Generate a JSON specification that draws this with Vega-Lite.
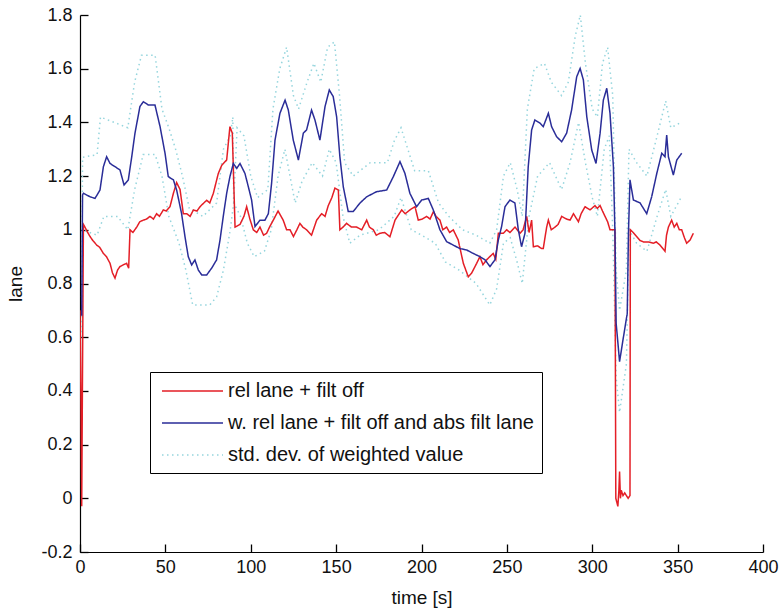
{
  "$schema": "https://vega.github.io/schema/vega-lite/v6.json",
  "width": 683,
  "height": 537,
  "autosize": {"type": "none"},
  "padding": {"left": 80, "top": 15, "right": 19, "bottom": 59},
  "background": "white",
  "config": {
    "view": {"stroke": null},
    "font": "Liberation Sans",
    "legend": {
      "orient": "none",
      "legendX": 70,
      "legendY": 357,
      "strokeColor": "black",
      "fillColor": "white",
      "padding": 8,
      "symbolType": "M-0.7,0H5.4",
      "symbolSize": 400,
      "symbolStrokeWidth": 1.5,
      "labelFontSize": 20,
      "labelFont": "Liberation Sans",
      "labelColor": "#111",
      "labelLimit": 600,
      "labelOffset": 48,
      "rowPadding": 11
    }
  },
  "data": {
    "values": [
      {"t":1,"v":0.75,"s":"d","p":"u"},{"t":1.5,"v":1.27,"s":"d","p":"u"},{"t":10,"v":1.28,"s":"d","p":"u"},{"t":12,"v":1.42,"s":"d","p":"u"},{"t":20,"v":1.4,"s":"d","p":"u"},{"t":28,"v":1.38,"s":"d","p":"u"},{"t":32,"v":1.55,"s":"d","p":"u"},{"t":36,"v":1.65,"s":"d","p":"u"},{"t":44,"v":1.65,"s":"d","p":"u"},{"t":48,"v":1.45,"s":"d","p":"u"},{"t":52,"v":1.38,"s":"d","p":"u"},{"t":56,"v":1.3,"s":"d","p":"u"},{"t":60,"v":1.2,"s":"d","p":"u"},{"t":64,"v":1.08,"s":"d","p":"u"},{"t":72,"v":1.05,"s":"d","p":"u"},{"t":80,"v":1.1,"s":"d","p":"u"},{"t":84,"v":1.3,"s":"d","p":"u"},{"t":88,"v":1.35,"s":"d","p":"u"},{"t":89.5,"v":1.42,"s":"d","p":"u"},{"t":90,"v":1.1,"s":"d","p":"u"},{"t":92,"v":1.38,"s":"d","p":"u"},{"t":96,"v":1.35,"s":"d","p":"u"},{"t":100,"v":1.2,"s":"d","p":"u"},{"t":104,"v":1.12,"s":"d","p":"u"},{"t":110,"v":1.15,"s":"d","p":"u"},{"t":113,"v":1.45,"s":"d","p":"u"},{"t":117,"v":1.6,"s":"d","p":"u"},{"t":121,"v":1.68,"s":"d","p":"u"},{"t":125,"v":1.5,"s":"d","p":"u"},{"t":128,"v":1.45,"s":"d","p":"u"},{"t":133,"v":1.55,"s":"d","p":"u"},{"t":137,"v":1.62,"s":"d","p":"u"},{"t":141,"v":1.55,"s":"d","p":"u"},{"t":145,"v":1.68,"s":"d","p":"u"},{"t":149,"v":1.7,"s":"d","p":"u"},{"t":152,"v":1.5,"s":"d","p":"u"},{"t":155,"v":1.25,"s":"d","p":"u"},{"t":160,"v":1.2,"s":"d","p":"u"},{"t":170,"v":1.25,"s":"d","p":"u"},{"t":180,"v":1.25,"s":"d","p":"u"},{"t":184,"v":1.33,"s":"d","p":"u"},{"t":188,"v":1.38,"s":"d","p":"u"},{"t":192,"v":1.3,"s":"d","p":"u"},{"t":196,"v":1.22,"s":"d","p":"u"},{"t":204,"v":1.22,"s":"d","p":"u"},{"t":210,"v":1.1,"s":"d","p":"u"},{"t":216,"v":1.05,"s":"d","p":"u"},{"t":224,"v":1.0,"s":"d","p":"u"},{"t":232,"v":0.98,"s":"d","p":"u"},{"t":240,"v":0.95,"s":"d","p":"u"},{"t":244,"v":1.0,"s":"d","p":"u"},{"t":248,"v":1.2,"s":"d","p":"u"},{"t":252,"v":1.25,"s":"d","p":"u"},{"t":256,"v":1.15,"s":"d","p":"u"},{"t":259,"v":1.05,"s":"d","p":"u"},{"t":262,"v":1.45,"s":"d","p":"u"},{"t":266,"v":1.6,"s":"d","p":"u"},{"t":272,"v":1.62,"s":"d","p":"u"},{"t":276,"v":1.55,"s":"d","p":"u"},{"t":282,"v":1.5,"s":"d","p":"u"},{"t":286,"v":1.55,"s":"d","p":"u"},{"t":290,"v":1.72,"s":"d","p":"u"},{"t":293,"v":1.8,"s":"d","p":"u"},{"t":296,"v":1.62,"s":"d","p":"u"},{"t":300,"v":1.45,"s":"d","p":"u"},{"t":303,"v":1.42,"s":"d","p":"u"},{"t":306,"v":1.62,"s":"d","p":"u"},{"t":309,"v":1.68,"s":"d","p":"u"},{"t":312,"v":1.5,"s":"d","p":"u"},{"t":314,"v":0.85,"s":"d","p":"u"},{"t":316,"v":0.7,"s":"d","p":"u"},{"t":320,"v":0.85,"s":"d","p":"u"},{"t":321.5,"v":1.3,"s":"d","p":"u"},{"t":326,"v":1.25,"s":"d","p":"u"},{"t":332,"v":1.2,"s":"d","p":"u"},{"t":338,"v":1.35,"s":"d","p":"u"},{"t":343,"v":1.48,"s":"d","p":"u"},{"t":346,"v":1.38,"s":"d","p":"u"},{"t":352,"v":1.4,"s":"d","p":"u"},
      {"t":1,"v":0.6,"s":"d","p":"l"},{"t":1.5,"v":1.0,"s":"d","p":"l"},{"t":10,"v":0.98,"s":"d","p":"l"},{"t":14,"v":1.05,"s":"d","p":"l"},{"t":22,"v":1.05,"s":"d","p":"l"},{"t":28,"v":1.0,"s":"d","p":"l"},{"t":32,"v":1.15,"s":"d","p":"l"},{"t":37,"v":1.28,"s":"d","p":"l"},{"t":44,"v":1.28,"s":"d","p":"l"},{"t":48,"v":1.2,"s":"d","p":"l"},{"t":52,"v":1.05,"s":"d","p":"l"},{"t":58,"v":0.95,"s":"d","p":"l"},{"t":62,"v":0.85,"s":"d","p":"l"},{"t":66,"v":0.72,"s":"d","p":"l"},{"t":76,"v":0.72,"s":"d","p":"l"},{"t":80,"v":0.75,"s":"d","p":"l"},{"t":84,"v":0.85,"s":"d","p":"l"},{"t":88,"v":1.0,"s":"d","p":"l"},{"t":90,"v":1.1,"s":"d","p":"l"},{"t":94,"v":1.05,"s":"d","p":"l"},{"t":98,"v":0.95,"s":"d","p":"l"},{"t":102,"v":0.9,"s":"d","p":"l"},{"t":108,"v":0.92,"s":"d","p":"l"},{"t":112,"v":1.0,"s":"d","p":"l"},{"t":116,"v":1.2,"s":"d","p":"l"},{"t":120,"v":1.3,"s":"d","p":"l"},{"t":126,"v":1.1,"s":"d","p":"l"},{"t":130,"v":1.18,"s":"d","p":"l"},{"t":136,"v":1.25,"s":"d","p":"l"},{"t":142,"v":1.2,"s":"d","p":"l"},{"t":146,"v":1.3,"s":"d","p":"l"},{"t":150,"v":1.25,"s":"d","p":"l"},{"t":154,"v":1.05,"s":"d","p":"l"},{"t":158,"v":0.95,"s":"d","p":"l"},{"t":164,"v":0.98,"s":"d","p":"l"},{"t":175,"v":1.0,"s":"d","p":"l"},{"t":184,"v":1.05,"s":"d","p":"l"},{"t":188,"v":1.12,"s":"d","p":"l"},{"t":194,"v":1.0,"s":"d","p":"l"},{"t":200,"v":0.98,"s":"d","p":"l"},{"t":208,"v":0.95,"s":"d","p":"l"},{"t":214,"v":0.88,"s":"d","p":"l"},{"t":222,"v":0.85,"s":"d","p":"l"},{"t":232,"v":0.8,"s":"d","p":"l"},{"t":240,"v":0.72,"s":"d","p":"l"},{"t":244,"v":0.78,"s":"d","p":"l"},{"t":248,"v":0.95,"s":"d","p":"l"},{"t":252,"v":0.97,"s":"d","p":"l"},{"t":256,"v":0.88,"s":"d","p":"l"},{"t":259,"v":0.8,"s":"d","p":"l"},{"t":263,"v":1.05,"s":"d","p":"l"},{"t":268,"v":1.2,"s":"d","p":"l"},{"t":275,"v":1.25,"s":"d","p":"l"},{"t":282,"v":1.15,"s":"d","p":"l"},{"t":287,"v":1.25,"s":"d","p":"l"},{"t":292,"v":1.4,"s":"d","p":"l"},{"t":296,"v":1.25,"s":"d","p":"l"},{"t":300,"v":1.12,"s":"d","p":"l"},{"t":303,"v":1.05,"s":"d","p":"l"},{"t":307,"v":1.3,"s":"d","p":"l"},{"t":310,"v":1.35,"s":"d","p":"l"},{"t":312,"v":1.0,"s":"d","p":"l"},{"t":314,"v":0.45,"s":"d","p":"l"},{"t":316,"v":0.32,"s":"d","p":"l"},{"t":320,"v":0.5,"s":"d","p":"l"},{"t":321.5,"v":1.0,"s":"d","p":"l"},{"t":326,"v":0.95,"s":"d","p":"l"},{"t":332,"v":0.92,"s":"d","p":"l"},{"t":338,"v":1.05,"s":"d","p":"l"},{"t":343,"v":1.15,"s":"d","p":"l"},{"t":346,"v":1.05,"s":"d","p":"l"},{"t":352,"v":1.12,"s":"d","p":"l"},
      {"t":0,"v":0.7,"s":"r","p":"m"},{"t":0.6,"v":0.35,"s":"r","p":"m"},{"t":1.0,"v":-0.03,"s":"r","p":"m"},{"t":1.5,"v":0.5,"s":"r","p":"m"},{"t":2.0,"v":1.02,"s":"r","p":"m"},{"t":2.9,"v":1.01,"s":"r","p":"m"},{"t":4.5,"v":0.99,"s":"r","p":"m"},{"t":5.9,"v":0.975,"s":"r","p":"m"},{"t":7.5,"v":0.96,"s":"r","p":"m"},{"t":9.8,"v":0.943,"s":"r","p":"m"},{"t":11.5,"v":0.935,"s":"r","p":"m"},{"t":13.7,"v":0.912,"s":"r","p":"m"},{"t":15.5,"v":0.9,"s":"r","p":"m"},{"t":17.6,"v":0.875,"s":"r","p":"m"},{"t":19,"v":0.84,"s":"r","p":"m"},{"t":20.5,"v":0.82,"s":"r","p":"m"},{"t":22,"v":0.85,"s":"r","p":"m"},{"t":23.4,"v":0.863,"s":"r","p":"m"},{"t":25.5,"v":0.87,"s":"r","p":"m"},{"t":27.3,"v":0.875,"s":"r","p":"m"},{"t":28.5,"v":0.857,"s":"r","p":"m"},{"t":29.3,"v":1.0,"s":"r","p":"m"},{"t":31,"v":0.99,"s":"r","p":"m"},{"t":33.2,"v":1.01,"s":"r","p":"m"},{"t":35,"v":1.03,"s":"r","p":"m"},{"t":37.1,"v":1.036,"s":"r","p":"m"},{"t":39,"v":1.04,"s":"r","p":"m"},{"t":41,"v":1.05,"s":"r","p":"m"},{"t":43,"v":1.04,"s":"r","p":"m"},{"t":44.9,"v":1.06,"s":"r","p":"m"},{"t":46.5,"v":1.05,"s":"r","p":"m"},{"t":48.8,"v":1.074,"s":"r","p":"m"},{"t":50.5,"v":1.07,"s":"r","p":"m"},{"t":52.7,"v":1.086,"s":"r","p":"m"},{"t":54.7,"v":1.136,"s":"r","p":"m"},{"t":56.6,"v":1.176,"s":"r","p":"m"},{"t":58.6,"v":1.15,"s":"r","p":"m"},{"t":60.5,"v":1.06,"s":"r","p":"m"},{"t":62.5,"v":1.06,"s":"r","p":"m"},{"t":64.5,"v":1.05,"s":"r","p":"m"},{"t":66.4,"v":1.074,"s":"r","p":"m"},{"t":68.5,"v":1.07,"s":"r","p":"m"},{"t":70.3,"v":1.086,"s":"r","p":"m"},{"t":72.5,"v":1.1,"s":"r","p":"m"},{"t":74.2,"v":1.11,"s":"r","p":"m"},{"t":76,"v":1.1,"s":"r","p":"m"},{"t":78.1,"v":1.136,"s":"r","p":"m"},{"t":81,"v":1.21,"s":"r","p":"m"},{"t":83,"v":1.24,"s":"r","p":"m"},{"t":85.9,"v":1.26,"s":"r","p":"m"},{"t":87.8,"v":1.384,"s":"r","p":"m"},{"t":89.2,"v":1.36,"s":"r","p":"m"},{"t":90.8,"v":1.01,"s":"r","p":"m"},{"t":93.7,"v":1.02,"s":"r","p":"m"},{"t":96,"v":1.05,"s":"r","p":"m"},{"t":97.6,"v":1.086,"s":"r","p":"m"},{"t":99.5,"v":1.04,"s":"r","p":"m"},{"t":101.5,"v":1.0,"s":"r","p":"m"},{"t":103.5,"v":0.99,"s":"r","p":"m"},{"t":105.4,"v":1.01,"s":"r","p":"m"},{"t":107.5,"v":0.98,"s":"r","p":"m"},{"t":109.3,"v":0.987,"s":"r","p":"m"},{"t":111,"v":1.01,"s":"r","p":"m"},{"t":113.2,"v":1.036,"s":"r","p":"m"},{"t":116,"v":1.07,"s":"r","p":"m"},{"t":119,"v":1.036,"s":"r","p":"m"},{"t":121,"v":1.0,"s":"r","p":"m"},{"t":123,"v":1.0,"s":"r","p":"m"},{"t":125,"v":0.975,"s":"r","p":"m"},{"t":127,"v":1.0,"s":"r","p":"m"},{"t":128.8,"v":1.024,"s":"r","p":"m"},{"t":130.5,"v":1.01,"s":"r","p":"m"},{"t":132.7,"v":1.0,"s":"r","p":"m"},{"t":135.6,"v":0.98,"s":"r","p":"m"},{"t":138.6,"v":1.036,"s":"r","p":"m"},{"t":141.5,"v":1.06,"s":"r","p":"m"},{"t":143.5,"v":1.05,"s":"r","p":"m"},{"t":145.4,"v":1.09,"s":"r","p":"m"},{"t":147.5,"v":1.12,"s":"r","p":"m"},{"t":149.3,"v":1.155,"s":"r","p":"m"},{"t":151.3,"v":1.148,"s":"r","p":"m"},{"t":152.2,"v":1.0,"s":"r","p":"m"},{"t":154,"v":1.01,"s":"r","p":"m"},{"t":156.1,"v":1.024,"s":"r","p":"m"},{"t":159,"v":1.01,"s":"r","p":"m"},{"t":162,"v":1.01,"s":"r","p":"m"},{"t":165,"v":1.0,"s":"r","p":"m"},{"t":167.9,"v":1.036,"s":"r","p":"m"},{"t":169.5,"v":1.01,"s":"r","p":"m"},{"t":171.8,"v":1.0,"s":"r","p":"m"},{"t":173.5,"v":0.98,"s":"r","p":"m"},{"t":175.7,"v":0.987,"s":"r","p":"m"},{"t":178.5,"v":0.99,"s":"r","p":"m"},{"t":181.5,"v":0.974,"s":"r","p":"m"},{"t":184.5,"v":1.036,"s":"r","p":"m"},{"t":188.4,"v":1.074,"s":"r","p":"m"},{"t":190.5,"v":1.06,"s":"r","p":"m"},{"t":193.2,"v":1.074,"s":"r","p":"m"},{"t":196.2,"v":1.086,"s":"r","p":"m"},{"t":198.1,"v":1.036,"s":"r","p":"m"},{"t":200.5,"v":1.04,"s":"r","p":"m"},{"t":203,"v":1.05,"s":"r","p":"m"},{"t":205,"v":1.04,"s":"r","p":"m"},{"t":207,"v":1.068,"s":"r","p":"m"},{"t":208.5,"v":1.05,"s":"r","p":"m"},{"t":210.8,"v":1.036,"s":"r","p":"m"},{"t":212.5,"v":1.0,"s":"r","p":"m"},{"t":214.7,"v":1.01,"s":"r","p":"m"},{"t":216.5,"v":0.99,"s":"r","p":"m"},{"t":218.6,"v":1.0,"s":"r","p":"m"},{"t":221.5,"v":0.962,"s":"r","p":"m"},{"t":224.5,"v":0.875,"s":"r","p":"m"},{"t":227.4,"v":0.825,"s":"r","p":"m"},{"t":229.3,"v":0.838,"s":"r","p":"m"},{"t":232.3,"v":0.875,"s":"r","p":"m"},{"t":234.2,"v":0.9,"s":"r","p":"m"},{"t":236,"v":0.87,"s":"r","p":"m"},{"t":238.1,"v":0.888,"s":"r","p":"m"},{"t":240,"v":0.9,"s":"r","p":"m"},{"t":242,"v":0.912,"s":"r","p":"m"},{"t":243.5,"v":0.89,"s":"r","p":"m"},{"t":245,"v":0.987,"s":"r","p":"m"},{"t":247.9,"v":0.987,"s":"r","p":"m"},{"t":249.9,"v":1.0,"s":"r","p":"m"},{"t":251.8,"v":0.99,"s":"r","p":"m"},{"t":254.8,"v":1.01,"s":"r","p":"m"},{"t":257.7,"v":0.987,"s":"r","p":"m"},{"t":259.5,"v":1.0,"s":"r","p":"m"},{"t":261.6,"v":1.05,"s":"r","p":"m"},{"t":263,"v":0.99,"s":"r","p":"m"},{"t":264.5,"v":1.036,"s":"r","p":"m"},{"t":265.5,"v":0.937,"s":"r","p":"m"},{"t":268,"v":0.94,"s":"r","p":"m"},{"t":270.4,"v":0.93,"s":"r","p":"m"},{"t":271.3,"v":0.93,"s":"r","p":"m"},{"t":273.3,"v":1.01,"s":"r","p":"m"},{"t":274.3,"v":1.036,"s":"r","p":"m"},{"t":276,"v":1.0,"s":"r","p":"m"},{"t":278.2,"v":1.01,"s":"r","p":"m"},{"t":280,"v":1.02,"s":"r","p":"m"},{"t":282.1,"v":1.05,"s":"r","p":"m"},{"t":285,"v":1.04,"s":"r","p":"m"},{"t":287,"v":1.036,"s":"r","p":"m"},{"t":289,"v":1.06,"s":"r","p":"m"},{"t":291.9,"v":1.03,"s":"r","p":"m"},{"t":293.5,"v":1.06,"s":"r","p":"m"},{"t":295.8,"v":1.086,"s":"r","p":"m"},{"t":298.7,"v":1.074,"s":"r","p":"m"},{"t":301.6,"v":1.09,"s":"r","p":"m"},{"t":303,"v":1.08,"s":"r","p":"m"},{"t":304.6,"v":1.09,"s":"r","p":"m"},{"t":306,"v":1.07,"s":"r","p":"m"},{"t":307.5,"v":1.05,"s":"r","p":"m"},{"t":309,"v":1.03,"s":"r","p":"m"},{"t":310.4,"v":1.0,"s":"r","p":"m"},{"t":313.3,"v":1.0,"s":"r","p":"m"},{"t":313.8,"v":0.0,"s":"r","p":"m"},{"t":315,"v":-0.03,"s":"r","p":"m"},{"t":315.6,"v":0.03,"s":"r","p":"m"},{"t":316,"v":0.1,"s":"r","p":"m"},{"t":316.5,"v":0.0,"s":"r","p":"m"},{"t":317,"v":0.03,"s":"r","p":"m"},{"t":318,"v":0.01,"s":"r","p":"m"},{"t":319,"v":0.02,"s":"r","p":"m"},{"t":320,"v":0.01,"s":"r","p":"m"},{"t":321,"v":0.0,"s":"r","p":"m"},{"t":322.1,"v":0.01,"s":"r","p":"m"},{"t":322.3,"v":1.0,"s":"r","p":"m"},{"t":324,"v":0.99,"s":"r","p":"m"},{"t":326,"v":0.975,"s":"r","p":"m"},{"t":328,"v":0.96,"s":"r","p":"m"},{"t":330,"v":0.955,"s":"r","p":"m"},{"t":333,"v":0.955,"s":"r","p":"m"},{"t":335.8,"v":0.95,"s":"r","p":"m"},{"t":337.5,"v":0.955,"s":"r","p":"m"},{"t":339.7,"v":0.943,"s":"r","p":"m"},{"t":342.6,"v":0.92,"s":"r","p":"m"},{"t":343.5,"v":0.98,"s":"r","p":"m"},{"t":344.6,"v":1.01,"s":"r","p":"m"},{"t":346.5,"v":1.036,"s":"r","p":"m"},{"t":348,"v":1.01,"s":"r","p":"m"},{"t":349.5,"v":1.024,"s":"r","p":"m"},{"t":351,"v":1.0,"s":"r","p":"m"},{"t":352.4,"v":1.0,"s":"r","p":"m"},{"t":354,"v":0.97,"s":"r","p":"m"},{"t":355.3,"v":0.95,"s":"r","p":"m"},{"t":357.3,"v":0.962,"s":"r","p":"m"},{"t":359.2,"v":0.987,"s":"r","p":"m"},
      {"t":1.0,"v":0.68,"s":"b","p":"m"},{"t":1.5,"v":1.13,"s":"b","p":"m"},{"t":2,"v":1.136,"s":"b","p":"m"},{"t":5.9,"v":1.123,"s":"b","p":"m"},{"t":8.8,"v":1.117,"s":"b","p":"m"},{"t":11.7,"v":1.148,"s":"b","p":"m"},{"t":13.7,"v":1.235,"s":"b","p":"m"},{"t":15.6,"v":1.272,"s":"b","p":"m"},{"t":17.6,"v":1.247,"s":"b","p":"m"},{"t":20.5,"v":1.235,"s":"b","p":"m"},{"t":23.4,"v":1.223,"s":"b","p":"m"},{"t":25.8,"v":1.167,"s":"b","p":"m"},{"t":28.3,"v":1.186,"s":"b","p":"m"},{"t":30.3,"v":1.272,"s":"b","p":"m"},{"t":32.2,"v":1.36,"s":"b","p":"m"},{"t":35.1,"v":1.459,"s":"b","p":"m"},{"t":37.1,"v":1.477,"s":"b","p":"m"},{"t":40,"v":1.465,"s":"b","p":"m"},{"t":43.9,"v":1.465,"s":"b","p":"m"},{"t":46.9,"v":1.384,"s":"b","p":"m"},{"t":49.8,"v":1.285,"s":"b","p":"m"},{"t":51.7,"v":1.198,"s":"b","p":"m"},{"t":54.7,"v":1.186,"s":"b","p":"m"},{"t":56.6,"v":1.148,"s":"b","p":"m"},{"t":59.5,"v":1.06,"s":"b","p":"m"},{"t":61.5,"v":0.974,"s":"b","p":"m"},{"t":63.4,"v":0.9,"s":"b","p":"m"},{"t":65.4,"v":0.869,"s":"b","p":"m"},{"t":67.3,"v":0.888,"s":"b","p":"m"},{"t":69.3,"v":0.85,"s":"b","p":"m"},{"t":71.3,"v":0.832,"s":"b","p":"m"},{"t":74.2,"v":0.832,"s":"b","p":"m"},{"t":77.1,"v":0.857,"s":"b","p":"m"},{"t":80,"v":0.888,"s":"b","p":"m"},{"t":82,"v":0.962,"s":"b","p":"m"},{"t":83.9,"v":1.05,"s":"b","p":"m"},{"t":85.9,"v":1.136,"s":"b","p":"m"},{"t":87.8,"v":1.198,"s":"b","p":"m"},{"t":89.8,"v":1.247,"s":"b","p":"m"},{"t":91.8,"v":1.229,"s":"b","p":"m"},{"t":93.7,"v":1.247,"s":"b","p":"m"},{"t":96.6,"v":1.21,"s":"b","p":"m"},{"t":98.6,"v":1.16,"s":"b","p":"m"},{"t":100.5,"v":1.111,"s":"b","p":"m"},{"t":102.5,"v":1.012,"s":"b","p":"m"},{"t":105.4,"v":1.036,"s":"b","p":"m"},{"t":108.3,"v":1.036,"s":"b","p":"m"},{"t":110.3,"v":1.06,"s":"b","p":"m"},{"t":112.2,"v":1.173,"s":"b","p":"m"},{"t":114.2,"v":1.334,"s":"b","p":"m"},{"t":117.1,"v":1.434,"s":"b","p":"m"},{"t":120.1,"v":1.483,"s":"b","p":"m"},{"t":122,"v":1.446,"s":"b","p":"m"},{"t":124.9,"v":1.334,"s":"b","p":"m"},{"t":127.9,"v":1.26,"s":"b","p":"m"},{"t":130.8,"v":1.36,"s":"b","p":"m"},{"t":132.7,"v":1.372,"s":"b","p":"m"},{"t":135.6,"v":1.446,"s":"b","p":"m"},{"t":137.6,"v":1.409,"s":"b","p":"m"},{"t":140.5,"v":1.334,"s":"b","p":"m"},{"t":143.5,"v":1.459,"s":"b","p":"m"},{"t":146,"v":1.521,"s":"b","p":"m"},{"t":148.3,"v":1.496,"s":"b","p":"m"},{"t":150.3,"v":1.421,"s":"b","p":"m"},{"t":152.2,"v":1.272,"s":"b","p":"m"},{"t":154.2,"v":1.16,"s":"b","p":"m"},{"t":157.1,"v":1.068,"s":"b","p":"m"},{"t":160,"v":1.068,"s":"b","p":"m"},{"t":164,"v":1.1,"s":"b","p":"m"},{"t":167.9,"v":1.123,"s":"b","p":"m"},{"t":173.7,"v":1.142,"s":"b","p":"m"},{"t":179.6,"v":1.148,"s":"b","p":"m"},{"t":183.5,"v":1.198,"s":"b","p":"m"},{"t":187.4,"v":1.254,"s":"b","p":"m"},{"t":190.3,"v":1.21,"s":"b","p":"m"},{"t":193.2,"v":1.136,"s":"b","p":"m"},{"t":197.1,"v":1.086,"s":"b","p":"m"},{"t":200.1,"v":1.111,"s":"b","p":"m"},{"t":204,"v":1.117,"s":"b","p":"m"},{"t":206.9,"v":1.074,"s":"b","p":"m"},{"t":210.8,"v":1.0,"s":"b","p":"m"},{"t":214.7,"v":0.956,"s":"b","p":"m"},{"t":218.6,"v":0.943,"s":"b","p":"m"},{"t":222.5,"v":0.93,"s":"b","p":"m"},{"t":226.4,"v":0.925,"s":"b","p":"m"},{"t":230.3,"v":0.912,"s":"b","p":"m"},{"t":234.2,"v":0.9,"s":"b","p":"m"},{"t":237.2,"v":0.888,"s":"b","p":"m"},{"t":240.1,"v":0.863,"s":"b","p":"m"},{"t":243,"v":0.888,"s":"b","p":"m"},{"t":245,"v":0.962,"s":"b","p":"m"},{"t":246.9,"v":1.012,"s":"b","p":"m"},{"t":248.9,"v":1.086,"s":"b","p":"m"},{"t":251.8,"v":1.111,"s":"b","p":"m"},{"t":254.7,"v":1.1,"s":"b","p":"m"},{"t":256.7,"v":1.0,"s":"b","p":"m"},{"t":258.6,"v":0.937,"s":"b","p":"m"},{"t":260.6,"v":0.987,"s":"b","p":"m"},{"t":262.5,"v":1.235,"s":"b","p":"m"},{"t":264.5,"v":1.372,"s":"b","p":"m"},{"t":266.4,"v":1.409,"s":"b","p":"m"},{"t":269.4,"v":1.397,"s":"b","p":"m"},{"t":271.3,"v":1.384,"s":"b","p":"m"},{"t":274.3,"v":1.434,"s":"b","p":"m"},{"t":276.2,"v":1.384,"s":"b","p":"m"},{"t":279.1,"v":1.347,"s":"b","p":"m"},{"t":282.1,"v":1.328,"s":"b","p":"m"},{"t":285,"v":1.36,"s":"b","p":"m"},{"t":287.9,"v":1.446,"s":"b","p":"m"},{"t":290.9,"v":1.57,"s":"b","p":"m"},{"t":292.9,"v":1.601,"s":"b","p":"m"},{"t":294.8,"v":1.558,"s":"b","p":"m"},{"t":296.8,"v":1.421,"s":"b","p":"m"},{"t":299.7,"v":1.297,"s":"b","p":"m"},{"t":302.2,"v":1.247,"s":"b","p":"m"},{"t":304.6,"v":1.36,"s":"b","p":"m"},{"t":306.5,"v":1.483,"s":"b","p":"m"},{"t":308.5,"v":1.527,"s":"b","p":"m"},{"t":310.4,"v":1.434,"s":"b","p":"m"},{"t":312.4,"v":1.235,"s":"b","p":"m"},{"t":313.3,"v":0.987,"s":"b","p":"m"},{"t":314,"v":0.652,"s":"b","p":"m"},{"t":316,"v":0.509,"s":"b","p":"m"},{"t":318,"v":0.59,"s":"b","p":"m"},{"t":320.5,"v":0.689,"s":"b","p":"m"},{"t":321.2,"v":0.987,"s":"b","p":"m"},{"t":322.1,"v":1.186,"s":"b","p":"m"},{"t":324.1,"v":1.111,"s":"b","p":"m"},{"t":328,"v":1.1,"s":"b","p":"m"},{"t":331.9,"v":1.06,"s":"b","p":"m"},{"t":334.8,"v":1.123,"s":"b","p":"m"},{"t":337.8,"v":1.21,"s":"b","p":"m"},{"t":340.7,"v":1.285,"s":"b","p":"m"},{"t":342.6,"v":1.272,"s":"b","p":"m"},{"t":343.6,"v":1.353,"s":"b","p":"m"},{"t":344.6,"v":1.272,"s":"b","p":"m"},{"t":347.5,"v":1.204,"s":"b","p":"m"},{"t":349.5,"v":1.26,"s":"b","p":"m"},{"t":352.4,"v":1.285,"s":"b","p":"m"}
    ]
  },
  "mark": {"type": "line", "strokeWidth": 1.5, "clip": true},
  "encoding": {
    "x": {
      "field": "t",
      "type": "quantitative",
      "scale": {"domain": [0, 400], "nice": false, "zero": false},
      "axis": {
        "title": "time [s]",
        "values": [0, 50, 100, 150, 200, 250, 300, 350, 400],
        "grid": false,
        "ticks": true,
        "tickSize": -8,
        "tickWidth": 1.3,
        "tickColor": "black",
        "domainColor": "black",
        "domainWidth": 1.2,
        "labelPadding": 14,
        "labelFont": "Liberation Sans",
        "labelFontSize": 18,
        "labelColor": "#111",
        "labelFlush": false,
        "labelOverlap": false,
        "titleFont": "Liberation Sans",
        "titleFontSize": 19,
        "titleFontWeight": "normal",
        "titleColor": "#111",
        "titleY": 45,
        "titleBaseline": "middle"
      }
    },
    "y": {
      "field": "v",
      "type": "quantitative",
      "scale": {"domain": [-0.2, 1.8], "nice": false, "zero": false},
      "axis": {
        "title": "lane",
        "values": [-0.2, 0, 0.2, 0.4, 0.6, 0.8, 1, 1.2, 1.4, 1.6, 1.8],
        "labelExpr": "replace(format(datum.value, '~g'), '−', '-')",
        "grid": false,
        "ticks": true,
        "tickSize": -8,
        "tickWidth": 1.3,
        "tickColor": "black",
        "domainColor": "black",
        "domainWidth": 1.2,
        "labelPadding": 16,
        "labelFont": "Liberation Sans",
        "labelFontSize": 18,
        "labelColor": "#111",
        "labelFlush": false,
        "labelOverlap": false,
        "titleFont": "Liberation Sans",
        "titleFontSize": 19,
        "titleFontWeight": "normal",
        "titleColor": "#111",
        "titleX": -65,
        "titleBaseline": "middle"
      }
    },
    "color": {
      "field": "s",
      "type": "nominal",
      "scale": {"domain": ["r", "b", "d"], "range": ["#e41e26", "#2a2d98", "#95d5dd"]},
      "legend": {
        "title": null,
        "labelExpr": "datum.value == 'r' ? 'rel lane + filt off' : datum.value == 'b' ? 'w. rel lane + filt off and abs filt lane' : 'std. dev. of weighted value'"
      }
    },
    "strokeDash": {
      "field": "s",
      "type": "nominal",
      "scale": {"domain": ["r", "b", "d"], "range": [[1, 0], [1, 0], [1.5, 3.5]]},
      "legend": {
        "title": null,
        "labelExpr": "datum.value == 'r' ? 'rel lane + filt off' : datum.value == 'b' ? 'w. rel lane + filt off and abs filt lane' : 'std. dev. of weighted value'"
      }
    },
    "detail": {"field": "p", "type": "nominal"}
  }
}
